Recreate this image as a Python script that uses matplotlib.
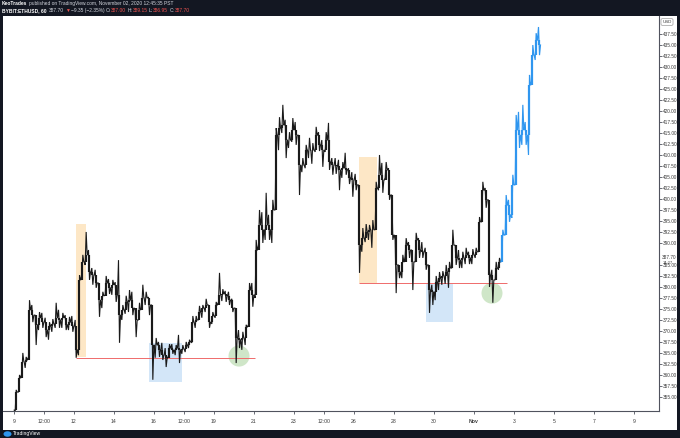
import numpy as np
import matplotlib
matplotlib.use("Agg")
import matplotlib.pyplot as plt
from matplotlib.patches import Rectangle, Ellipse

plt.rcParams['font.family'] = ['Liberation Sans', 'DejaVu Sans']

# ---------------- data (4-hour bars) ----------------
first_open = 352.0
black_high = [356.6, 360.0, 365.0, 364.1, 377.0, 375.9, 373.6, 374.3, 374.1, 373.0,
              372.0, 372.7, 376.4, 374.8, 374.1, 373.6, 373.2, 373.4, 372.5, 382.7,
              387.3, 392.5, 388.4, 384.3, 383.9, 380.9, 378.9, 382.5, 381.8, 381.6,
              381.1, 386.1, 375.9, 378.0, 379.3, 378.9, 374.8, 376.4, 380.5, 378.9,
              377.7, 375.9, 368.4, 367.5, 367.3, 366.1, 367.0, 367.0, 366.8, 369.1,
              366.8, 367.5, 368.0, 373.4, 373.4, 375.7, 375.9, 377.3, 375.9, 374.3,
              376.6, 383.2, 379.5, 379.1, 378.9, 377.3, 375.2, 370.2, 369.8, 371.4,
              380.9, 380.9, 390.7, 397.5, 397.0, 401.4, 396.4, 399.8, 416.1, 418.6,
              421.4, 418.0, 415.2, 418.4, 417.5, 414.5, 409.3, 412.3, 413.9, 412.7,
              416.4, 415.2, 413.4, 415.2, 417.3, 409.3, 409.3, 408.9, 408.4, 410.5,
              407.0, 406.1, 405.7, 403.2, 393.4, 394.3, 394.1, 395.2, 403.9, 410.0,
              408.2, 408.4, 407.0, 400.9, 390.7, 385.0, 387.3, 391.1, 390.2, 388.4,
              392.3, 391.1, 390.2, 388.9, 385.0, 380.5, 382.5, 383.4, 383.6, 385.0,
              385.7, 393.0, 389.5, 388.4, 388.0, 388.9, 388.0, 388.6, 388.9, 395.9,
              403.9, 402.5, 399.8, 383.9, 385.7, 386.6]
black_low = [351.6, 356.1, 360.5, 361.6, 364.1, 372.0, 366.8, 370.2, 370.7, 368.6,
             368.0, 369.8, 370.7, 370.7, 370.7, 370.2, 370.2, 369.8, 363.9, 364.5,
             382.7, 385.0, 381.6, 380.5, 379.8, 373.2, 375.2, 378.2, 378.4, 378.2,
             376.6, 367.3, 372.5, 373.9, 374.3, 373.6, 368.6, 372.5, 375.5, 375.9,
             373.6, 358.9, 363.9, 364.1, 363.4, 361.8, 364.3, 364.8, 364.5, 362.7,
             364.8, 365.2, 366.1, 367.3, 370.7, 372.5, 373.0, 374.3, 370.7, 371.6,
             373.0, 376.6, 376.8, 376.6, 375.9, 374.3, 362.7, 366.1, 365.7, 366.8,
             371.4, 375.5, 377.5, 389.5, 390.0, 390.7, 390.7, 390.0, 397.5, 411.1,
             415.0, 409.3, 411.6, 413.0, 412.3, 400.9, 406.1, 407.0, 409.3, 408.0,
             410.7, 410.9, 407.3, 410.7, 406.6, 405.5, 405.7, 402.0, 404.8, 405.5,
             403.4, 400.5, 402.0, 383.2, 388.0, 390.2, 390.7, 388.9, 393.0, 402.0,
             401.4, 404.8, 399.8, 390.7, 378.6, 382.0, 382.0, 387.0, 386.6, 379.3,
             385.7, 386.6, 386.6, 383.9, 374.1, 375.9, 377.0, 379.3, 380.5, 380.7,
             379.8, 384.3, 385.0, 384.3, 384.3, 385.2, 385.2, 385.2, 386.6, 388.0,
             394.8, 398.0, 380.0, 376.4, 381.6, 383.9]
black_close = [356.1, 359.3, 363.0, 363.4, 374.8, 373.6, 371.4, 373.0, 372.0, 370.2,
               371.1, 371.6, 373.0, 372.5, 373.0, 371.4, 372.0, 371.1, 365.7, 381.6,
               385.7, 387.3, 383.4, 382.7, 380.9, 377.0, 378.0, 380.9, 379.8, 380.5,
               378.2, 373.6, 374.8, 376.6, 377.0, 375.2, 372.5, 374.8, 377.5, 377.5,
               375.9, 366.8, 366.8, 365.7, 364.5, 363.9, 366.1, 365.7, 366.1, 365.7,
               365.9, 366.8, 367.5, 372.0, 372.5, 374.3, 375.2, 375.9, 372.0, 373.4,
               375.9, 378.2, 378.4, 378.0, 377.0, 375.2, 368.4, 368.0, 368.4, 370.9,
               379.3, 378.2, 388.4, 394.1, 393.0, 394.1, 393.0, 397.5, 414.5, 416.1,
               416.8, 413.4, 413.4, 415.7, 414.5, 407.7, 407.7, 411.1, 411.1, 411.1,
               414.5, 412.3, 411.1, 413.4, 408.4, 407.7, 407.5, 406.6, 407.0, 406.6,
               404.8, 404.3, 403.2, 389.5, 391.1, 392.5, 393.0, 393.0, 402.5, 405.5,
               404.3, 406.6, 400.9, 391.8, 385.0, 383.4, 385.7, 389.5, 388.4, 385.7,
               390.7, 388.4, 388.0, 385.0, 379.3, 378.9, 381.1, 382.0, 382.5, 383.4,
               384.3, 389.5, 386.6, 386.1, 386.6, 387.3, 386.6, 387.3, 388.0, 394.8,
               402.0, 399.8, 382.7, 381.6, 384.3, 385.7]

# projected path (blue)
blue_high = [393.0, 400.9, 399.8, 405.5, 419.1, 419.8, 421.4, 417.5, 428.2, 435.0, 437.7, 439.1]
blue_low = [386.6, 391.8, 394.8, 395.7, 403.2, 411.6, 412.3, 412.3, 410.0, 427.0, 431.6, 432.7]
blue_close = [391.8, 398.6, 396.4, 403.2, 415.7, 414.5, 415.7, 414.5, 425.9, 432.7, 436.1, 435.0]

# annotation zones (days after Oct 9, price)
orange_zones = [(3.1, 3.6, 364.0, 394.4), (17.25, 18.15, 380.9, 409.5)]
blue_zones = [(6.75, 8.4, 358.4, 367.3), (20.6, 21.95, 372.0, 380.7)]
support_lines = [(3.1, 12.05, 363.9), (17.25, 24.65, 380.9)]
green_marks = [(11.25, 364.3), (23.9, 378.6)]

price_ticks = [355.0, 357.5, 360.0, 362.5, 365.0, 367.5, 370.0, 372.5, 375.0, 377.5,
               380.0, 382.5, 385.0, 390.0, 392.5, 395.0, 397.5, 400.0, 402.5,
               405.0, 407.5, 410.0, 412.5, 415.0, 417.5, 420.0, 422.5, 425.0, 427.5,
               430.0, 432.5, 435.0, 437.5]
time_tick_pos = [0, 1.5, 3, 5, 7, 8.5, 10, 12, 14, 15.5, 17, 19, 21, 23, 25, 27, 29, 31]
time_tick_labels = ['9', '12:00', '12', '14', '16', '12:00', '19', '21', '23', '12:00',
                    '26', '28', '30', 'Nov', '3', '5', '7', '9']
last_price = "387.70"
countdown = "14:27"

# ---------------- figure ----------------
W, H = 680, 438
DARK = '#131722'
fig = plt.figure(figsize=(W / 100, H / 100), dpi=100, facecolor=DARK)


def frac(x0, y0, x1, y1):
    return [x0 / W, 1 - y1 / H, (x1 - x0) / W, (y1 - y0) / H]


panel = fig.add_axes(frac(3, 16, 677, 430))
panel.set_facecolor('white')
panel.set_xticks([]); panel.set_yticks([])
for s in panel.spines.values():
    s.set_visible(False)

YMIN, YMAX = 351.8, 441.6
ax = fig.add_axes(frac(3, 16, 659, 411))
ax.set_facecolor('white')
ax.set_xlim(-0.55, 32.25)
ax.set_ylim(YMIN, YMAX)
for side in ('left', 'top'):
    ax.spines[side].set_visible(False)
for side in ('right', 'bottom'):
    ax.spines[side].set_color('#50535e')
    ax.spines[side].set_linewidth(0.8)

# zones
for x0, x1, y0, y1 in orange_zones:
    ax.add_patch(Rectangle((x0, y0), x1 - x0, y1 - y0, facecolor='#fde7c6',
                           edgecolor='none', zorder=1))
for x0, x1, y0, y1 in blue_zones:
    ax.add_patch(Rectangle((x0, y0), x1 - x0, y1 - y0, facecolor='#d3e6f8',
                           edgecolor='none', zorder=1))
for x0, x1, y in support_lines:
    ax.hlines(y, x0, x1, color='#ef6b6b', linewidth=0.7, zorder=2)
for cx, cy in green_marks:
    ax.add_patch(Ellipse((cx, cy), 1.05, 4.8, facecolor='#cfe6c8', edgecolor='none',
                         zorder=1.5))

BAR = 1 / 6  # 4 hours in days


def ohlc_path(k0, opens, highs, lows, closes, color, lw, body_lw):
    xs, ys = [], []
    for i, (o, h, l, c) in enumerate(zip(opens, highs, lows, closes)):
        xc = (k0 + i + 0.5) * BAR
        first, second = (l, h) if c >= o else (h, l)
        xs += [xc - 0.45 * BAR, xc - 0.15 * BAR, xc + 0.15 * BAR, xc + 0.45 * BAR]
        ys += [o, first, second, c]
    ax.plot(xs, ys, color=color, linewidth=lw, solid_joinstyle='miter', zorder=4)
    o = np.asarray(opens); c = np.asarray(closes)
    xcs = (k0 + np.arange(len(c)) + 0.5) * BAR
    ax.vlines(xcs, np.minimum(o, c), np.maximum(o, c), colors=color, linewidth=body_lw,
              zorder=4, capstyle='butt')


nb = len(black_close)
ob = [first_open] + black_close[:-1]
ohlc_path(0, ob, black_high, black_low, black_close, '#1a1a1a', 0.8, 1.55)

obl = [black_close[-1]] + blue_close[:-1]
ohlc_path(nb, obl, blue_high, blue_low, blue_close, '#2f96ef', 0.85, 1.6)

# axes ticks
ax.yaxis.tick_right()
ax.set_yticks(price_ticks)
ax.set_yticklabels([f"{v:.2f}" for v in price_ticks])
ax.tick_params(axis='y', direction='out', length=1.8, width=0.6, colors='#50535e',
               labelsize=3.4, pad=0.9, labelcolor='#3a3a3a')
ax.set_xticks(time_tick_pos)
ax.set_xticklabels(time_tick_labels)
for lbl, t in zip(ax.get_xticklabels(), time_tick_labels):
    if t == 'Nov':
        lbl.set_fontweight('bold')
ax.tick_params(axis='x', direction='out', length=2.0, width=0.6, colors='#50535e',
               labelsize=3.7, pad=4, labelcolor='#3a3a3a')

# USD label and last price
fig.text(667 / W, 1 - 22 / H, 'USD', fontsize=3.2, color='#3a3a3a', ha='center',
         va='center', bbox=dict(boxstyle='round,pad=0.3', fc='white', ec='#9a9a9a', lw=0.5))
fig.text(661.5 / W, 1 - 257.5 / H, last_price, fontsize=3.4, color='#3a3a3a', ha='left',
         va='center')
fig.text(663 / W, 1 - 262.5 / H, countdown, fontsize=3.0, color='#3a3a3a', ha='left',
         va='center')

# header (pieces placed one after another)
hc = '#d1d4dc'
red = '#ef5350'
fig.canvas.draw()
rend = fig.canvas.get_renderer()


def text_row(pieces, x0, ypx, size):
    x = x0
    for s, c, w, gap in pieces:
        t = fig.text(x / W, 1 - ypx / H, s, fontsize=size, color=c, weight=w, va='center')
        bb = t.get_window_extent(rend)
        x = bb.x1 + gap


text_row([('KeoTrades', 'white', 'bold', 1.2),
          ('published on TradingView.com, November 02, 2020 12:45:35 PST', hc, 'normal', 0)],
         2, 3.8, 3.5)
text_row([('BYBIT:ETHUSD, 60', 'white', 'bold', 2.2), ('387.70', hc, 'normal', 1),
          ('\u25bc', red, 'normal', 1), ('\u22129.35 (\u22122.35%)', hc, 'normal', 1.5),
          ('O:', hc, 'normal', 0.4), ('387.00', red, 'normal', 1.2),
          ('H:', hc, 'normal', 0.4), ('389.15', red, 'normal', 1.2),
          ('L:', hc, 'normal', 0.4), ('386.95', red, 'normal', 1.2),
          ('C:', hc, 'normal', 0.4), ('387.70', red, 'normal', 0)],
         2, 10.2, 3.5)

# footer logo
fig.patches.append(Ellipse((7.5 / W, 1 - 434 / H), 8 / W, 5.5 / H, transform=fig.transFigure,
                           facecolor='#2f96ef', edgecolor='none'))
fig.text(12.5 / W, 1 - 434 / H, 'TradingView', fontsize=3.6, color='white', va='center')

fig.savefig('out.png', dpi=100, facecolor=DARK)
